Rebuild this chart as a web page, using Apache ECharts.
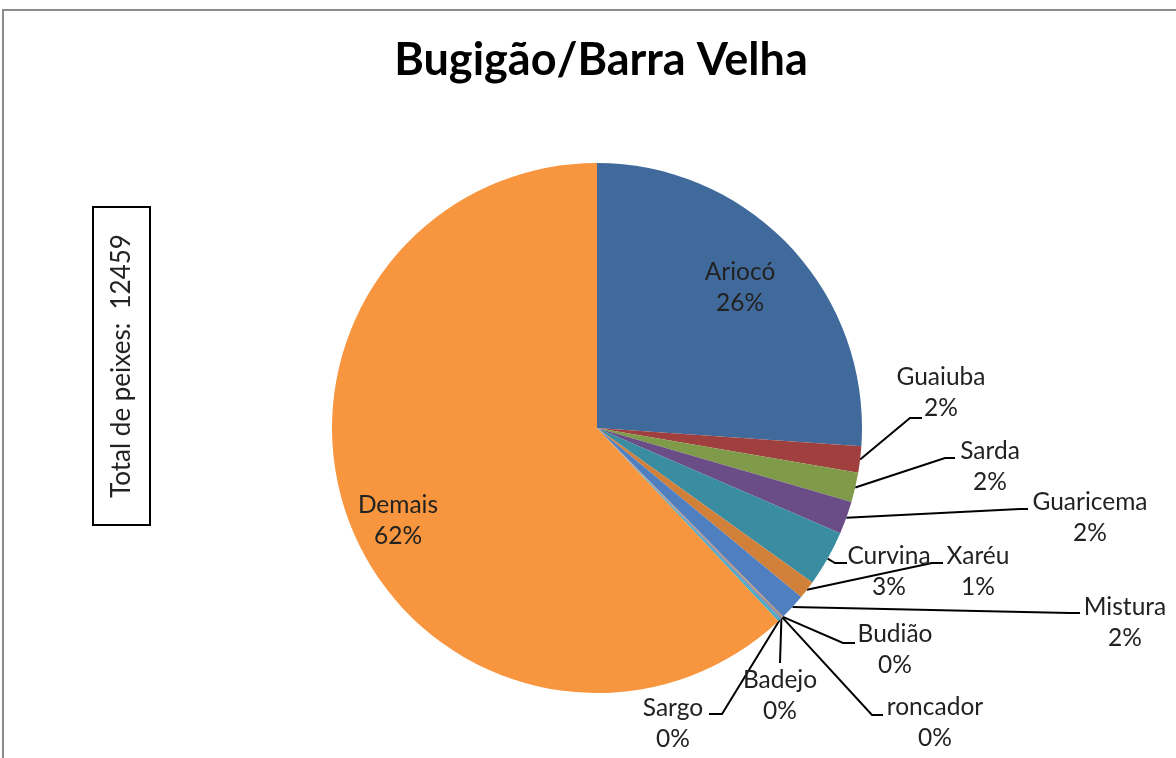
<!DOCTYPE html>
<html>
<head>
<meta charset="utf-8">
<script src="https://cdn.jsdelivr.net/npm/echarts@6/dist/echarts.min.js"></script>
<style>
html,body{margin:0;padding:0;background:#fff;}
#chart{width:1176px;height:758px;}
</style>
</head>
<body>
<div id="chart"></div>
<script>
// ---- data ----
var categories = ['Ariocó','Guaiuba','Sarda','Guaricema','Curvina','Xaréu','Mistura','Budião','roncador','Badejo','Sargo','Demais'];
var values = [26.1, 1.6, 1.8, 2.0, 3.4, 1.1, 1.6, 0.05, 0.05, 0.1, 0.2, 62.0];
var colors = ['#416A9C','#A0403E','#7F9A48','#6A4C87','#3A8CA0','#D1803A','#4F7FBF','#B56A68','#93AE5E','#8B79AB','#4BACC6','#F8953F'];
var titleText = 'Bugigão/Barra Velha';
var totalText = 'Total de peixes:  12459';

// ---- label layout (positions of the data labels and leader line ends) ----
var labelPos = {
  'Ariocó':   {c:[740,288]},
  'Demais':   {c:[398,521]},
  'Guaiuba':  {c:[941,393], e:[922,418], k:[910,418]},
  'Sarda':    {c:[990,467], e:[955,458], k:[945,458]},
  'Guaricema':{c:[1090,518], e:[1028,509], k:[1020,509]},
  'Curvina':  {c:[889,572], e:[847,563], k:[835,563]},
  'Xaréu':    {c:[978,572], e:[943,563], k:[932,563]},
  'Mistura':  {c:[1125,623], e:[1080,613], k:[1070,613]},
  'Budião':   {c:[895,650], e:[855,643], k:[843,643]},
  'roncador': {c:[935,723], e:[883,715], k:[872,715]},
  'Badejo':   {c:[780,696], e:[780,663], k:[780,663]},
  'Sargo':    {c:[673,724], e:[709,714], k:[722,714]}
};

var total = values.reduce(function(a,b){return a+b;},0);
var FONT = 'Lato, "Open Sans", sans-serif';

var data = categories.map(function(n,i){
  var item = {name:n, value:values[i], itemStyle:{color:colors[i]}};
  if (n === 'Ariocó' || n === 'Demais') {
    item.labelLine = {show:false};
  }
  return item;
});

var chart = echarts.init(document.getElementById('chart'));
chart.setOption({
  backgroundColor:'#fff',
  animation:false,
  title:{
    text:titleText, left:596, top:33, textAlign:'center',
    textStyle:{fontFamily:FONT, fontWeight:'bold', fontSize:45, color:'#000'}
  },
  graphic:[
    {type:'rect', shape:{x:3,y:10,width:1200,height:800}, style:{fill:'none', stroke:'#8c8c8c', lineWidth:2}, silent:true},
    {type:'rect', shape:{x:93,y:207,width:57,height:318}, style:{fill:'#fff', stroke:'#000', lineWidth:2}, silent:true},
    {type:'text', x:122, y:366, rotation:Math.PI/2,
      style:{text:totalText, fontFamily:FONT, fontSize:26, fill:'#222', align:'center', verticalAlign:'middle'}}
  ],
  series:[{
    type:'pie',
    center:[597,428],
    radius:265,
    startAngle:90,
    clockwise:true,
    avoidLabelOverlap:false,
    data:data,
    itemStyle:{borderWidth:0},
    label:{
      show:true, position:'outside',
      formatter:function(p){ return p.name + '\n' + Math.round(p.value/total*100) + '%'; },
      fontFamily:FONT, fontSize:24.5, lineHeight:31, color:'#222', align:'center'
    },
    labelLine:{show:true, length:10, length2:10, lineStyle:{color:'#000', width:2}},
    labelLayout:function(params){
      var name = categories[params.dataIndex];
      var lp = labelPos[name];
      var out = {x:lp.c[0], y:lp.c[1], align:'center', verticalAlign:'middle'};
      if (lp.e && params.labelLinePoints) {
        var p0 = params.labelLinePoints[0];
        out.labelLinePoints = [[p0[0],p0[1]], lp.k, lp.e];
      }
      return out;
    }
  }]
});
</script>
</body>
</html>
